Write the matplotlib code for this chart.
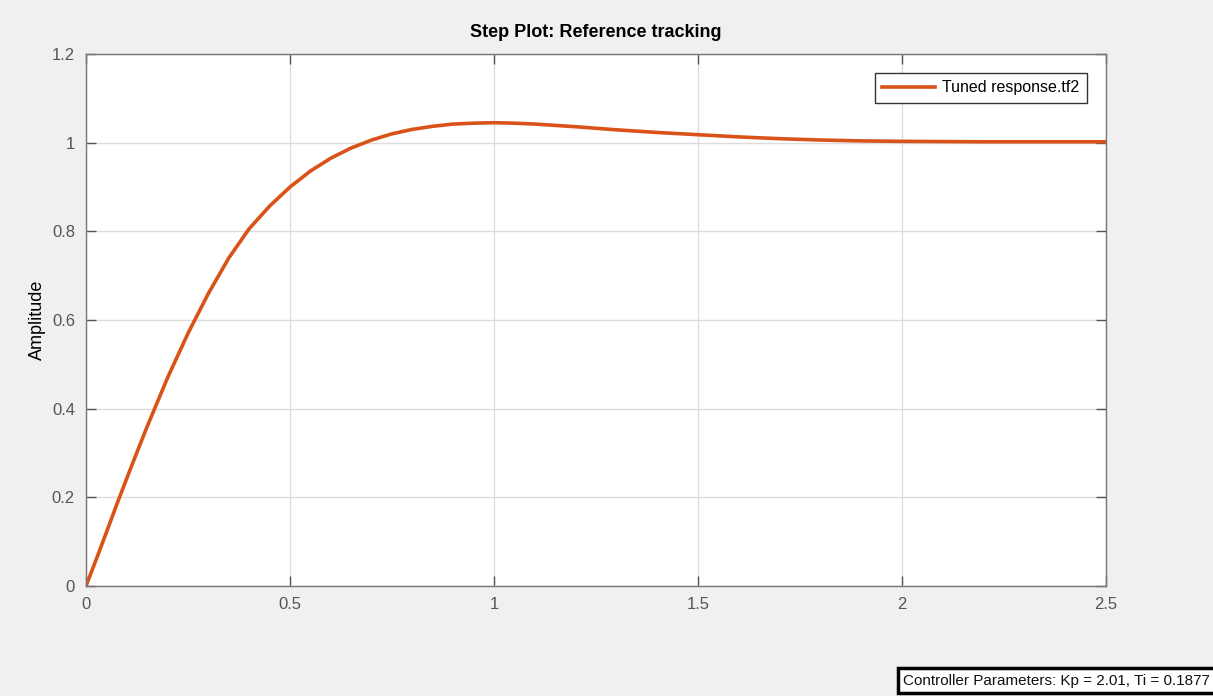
import numpy as np
import matplotlib.pyplot as plt

plt.rcParams['font.family'] = ['Liberation Sans', 'DejaVu Sans']

# Step response
t = [0, 0.025, 0.05, 0.075, 0.1, 0.125, 0.15, 0.175, 0.2, 0.25, 0.3, 0.35,
     0.4, 0.45, 0.5, 0.55, 0.6, 0.65, 0.7, 0.75, 0.8, 0.85, 0.9, 0.95, 1.0,
     1.05, 1.1, 1.2, 1.3, 1.4, 1.5, 1.6, 1.7, 1.8, 1.9, 2.0, 2.2, 2.5]
amp = [0, 0.06, 0.121, 0.183, 0.243, 0.302, 0.36, 0.415, 0.47, 0.57, 0.66,
       0.74, 0.806, 0.857, 0.90, 0.936, 0.965, 0.988, 1.006, 1.02, 1.03,
       1.037, 1.042, 1.044, 1.045, 1.044, 1.042, 1.036, 1.029, 1.023, 1.018,
       1.013, 1.009, 1.006, 1.004, 1.003, 1.002, 1.002]

xticks = [0, 0.5, 1, 1.5, 2, 2.5]
xticklabels = ['0', '0.5', '1', '1.5', '2', '2.5']
yticks = [0, 0.2, 0.4, 0.6, 0.8, 1, 1.2]
yticklabels = ['0', '0.2', '0.4', '0.6', '0.8', '1', '1.2']

fig = plt.figure(figsize=(12.13, 6.96), dpi=100, facecolor='#f0f0f0')
ax = fig.add_axes([0.0709, 0.158, 0.8409, 0.7644])
ax.set_facecolor('white')

ax.plot(t, amp, color='#D95319', linewidth=2.6, label='Tuned response.tf2')

ax.set_xlim(0, 2.5)
ax.set_ylim(0, 1.2)
ax.set_xticks(xticks)
ax.set_xticklabels(xticklabels)
ax.set_yticks(yticks)
ax.set_yticklabels(yticklabels)
ax.grid(True, color='#dcdcdc', linewidth=1.0)
ax.set_axisbelow(True)
ax.tick_params(direction='in', length=7, width=1, color='#555555',
               top=True, right=True, labelsize=12, labelcolor='#555555', pad=8)
for s in ax.spines.values():
    s.set_color('#777777')
    s.set_linewidth(1.0)

ax.set_title('Step Plot: Reference tracking', fontsize=13, fontweight='bold', pad=12)
ax.set_ylabel('Amplitude', fontsize=13, labelpad=4)

leg = ax.legend(loc='upper right', bbox_to_anchor=(0.989, 0.979), fontsize=11.5,
                fancybox=False, framealpha=1, edgecolor='#333333',
                handlelength=3.3, handletextpad=0.5, borderpad=0.45)
leg.get_frame().set_linewidth(1.0)

fig.text(0.7445, 0.022, 'Controller Parameters: Kp = 2.01, Ti = 0.1877',
         fontsize=11, color='#111111', ha='left', va='center',
         bbox=dict(boxstyle='square,pad=0.35', facecolor='white', edgecolor='black', linewidth=2.5))

fig.savefig('out.png', dpi=100, facecolor=fig.get_facecolor())
